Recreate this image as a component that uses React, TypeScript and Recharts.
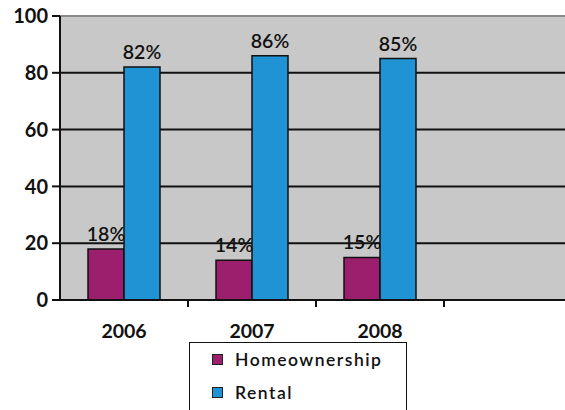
import {
  Bar,
  BarChart,
  CartesianGrid,
  LabelList,
  Legend,
  ReferenceLine,
  XAxis,
  YAxis,
} from "recharts";

const years = ["2006", "2007", "2008", ""];
const homeownership = [18, 14, 15, null];
const rental = [82, 86, 85, null];
const yTicks = [0, 20, 40, 60, 80, 100];

const series = [
  { key: "homeownership", name: "Homeownership", color: "#9c1f6e" },
  { key: "rental", name: "Rental", color: "#1f93d4" },
];

const data = years.map((year, i) => ({
  year,
  homeownership: homeownership[i],
  rental: rental[i],
}));

const FONT = "Lato, 'Open Sans', sans-serif";

function YearTick({ x, y, payload }: any) {
  return (
    <g>
      <line x1={x + 64} y1={y - 8} x2={x + 64} y2={y - 1} stroke="#111" strokeWidth={2} />
      <text x={x} y={y + 30} textAnchor="middle" fontSize={19.5} fontWeight={700} fill="#111" fontFamily={FONT}>
        {payload.value}
      </text>
    </g>
  );
}

function LegendBox() {
  return (
    <div
      style={{
        width: 218,
        height: 80,
        border: "1.5px solid #111",
        background: "#fff",
        fontFamily: FONT,
        boxSizing: "border-box",
        paddingTop: 0,
      }}
    >
      {series.map((s) => (
        <div key={s.key} style={{ display: "flex", alignItems: "center", height: 33, paddingLeft: 22 }}>
          <span
            style={{
              width: 9,
              height: 9,
              background: s.color,
              border: "1.5px solid #222",
              marginRight: 12,
              display: "inline-block",
            }}
          />
          <span style={{ fontSize: 17.5, letterSpacing: 1.5, color: "#111", fontWeight: 600 }}>{s.name}</span>
        </div>
      ))}
    </div>
  );
}

export default function App() {
  return (
    <div style={{ position: "absolute", left: 0, top: 0, width: 565, height: 410, overflow: "hidden", background: "#fff" }}>
      <BarChart
        width={580}
        height={410}
        data={data}
        margin={{ top: 16, right: 8, bottom: 70, left: 0 }}
        barGap={0}
        barCategoryGap={28}
      >
        <CartesianGrid vertical={false} stroke="#111" strokeWidth={2} fill="#c8c8c8" />
        <XAxis
          dataKey="year"
          height={40}
          tickLine={false}
          axisLine={{ stroke: "#111", strokeWidth: 2 }}
          tick={<YearTick />}
          interval={0}
        />
        <YAxis
          width={60}
          domain={[0, 100]}
          ticks={yTicks}
          tickSize={8}
          tickMargin={4}
          axisLine={{ stroke: "#111", strokeWidth: 2 }}
          tickLine={{ stroke: "#111", strokeWidth: 2 }}
          tick={{ fontSize: 20, fontWeight: 700, fill: "#111", fontFamily: FONT }}
        />
        <ReferenceLine y={100} stroke="#8a8a8a" strokeWidth={2} />
        {series.map((s) => (
          <Bar
            key={s.key}
            dataKey={s.key}
            name={s.name}
            fill={s.color}
            stroke="#111"
            strokeWidth={1.5}
            isAnimationActive={false}
          >
            <LabelList
              dataKey={s.key}
              position="top"
              offset={8}
              formatter={(v: any) => (v == null ? "" : `${v}%`)}
              style={{ fontSize: 19.5, fontWeight: 600, fill: "#111", fontFamily: FONT }}
            />
          </Bar>
        ))}
        <Legend
          layout="vertical"
          align="center"
          verticalAlign="middle"
          content={<LegendBox />}
          wrapperStyle={{ left: 189, top: 342, width: 218, height: 80 }}
        />
      </BarChart>
    </div>
  );
}
